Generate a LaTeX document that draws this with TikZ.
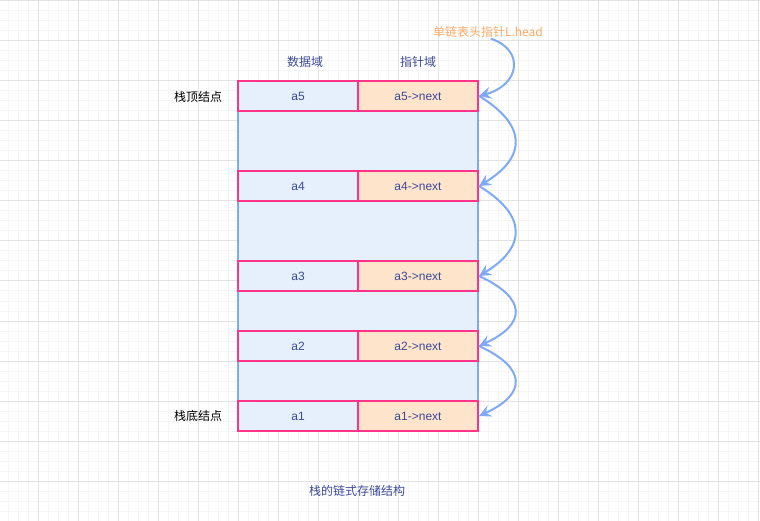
\documentclass[tikz,border=0pt]{standalone}
\usepackage{fontspec}
\setmainfont{Liberation Sans}
\newfontfamily\cjk{Noto Sans CJK SC}
\usetikzlibrary{arrows.meta}
\definecolor{pink}{HTML}{FF3388}
\definecolor{cellblue}{HTML}{E6F0FD}
\definecolor{cellorange}{HTML}{FFE4CC}
\definecolor{linkblue}{HTML}{7EAAF8}
\definecolor{textblue}{HTML}{3B4A96}
\definecolor{headorange}{HTML}{FFAA66}

\tikzset{
	datacell/.style={draw=pink, fill=cellblue, line width=2pt, minimum width=120pt, minimum height=30pt, inner sep=0pt, text=textblue, font=\fontsize{12}{14}\selectfont},
	ptrcell/.style={datacell, fill=cellorange},
	link/.style={draw=linkblue, line width=2pt, -{Stealth[length=12pt,width=12pt,inset=4.5pt]}},
	label/.style={inner sep=0pt, font=\fontsize{12}{14}\selectfont\cjk}
}

\begin{document}
\begin{tikzpicture}[x=1pt, y=-1pt]
	
	\useasboundingbox (0,0) rectangle (760,521);
	\fill[white] (0,0) rectangle (760,521);
	
	% grid
	\foreach \gx in {8,18,...,758} \draw[black!4, line width=1pt] (\gx,0) -- (\gx,521);
	\foreach \gy in {1,11,...,521} \draw[black!4, line width=1pt] (0,\gy) -- (760,\gy);
	\foreach \gx in {38,78,...,758} \draw[black!11, line width=1pt] (\gx,0) -- (\gx,521);
	\foreach \gy in {1,41,...,521} \draw[black!11, line width=1pt] (0,\gy) -- (760,\gy);
	
	\node[draw=linkblue, fill=cellblue, line width=2pt, minimum width=240pt, minimum height=350pt, inner sep=0pt] (stack) at (358,256) {};
	
	\node[datacell] (d5) at (298,96) {a5};
	\node[ptrcell] (p5) at (418,96) {a5->next};
	\node[datacell] (d4) at (298,186) {a4};
	\node[ptrcell] (p4) at (418,186) {a4->next};
	\node[datacell] (d3) at (298,276) {a3};
	\node[ptrcell] (p3) at (418,276) {a3->next};
	\node[datacell] (d2) at (298,346) {a2};
	\node[ptrcell] (p2) at (418,346) {a2->next};
	\node[datacell] (d1) at (298,416) {a1};
	\node[ptrcell] (p1) at (418,416) {a1->next};
	
	\node[label, text=textblue] (datafield) at (305,62) {数据域};
	\node[label, text=textblue] (ptrfield) at (418,62) {指针域};
	\node[label] (top) at (198,97) {栈顶结点};
	\node[label] (bottom) at (198,416) {栈底结点};
	\node[label, text=headorange] (head) at (488,32) {单链表头指针L.head};
	\node[label, text=textblue] (title) at (357,491) {栈的链式存储结构};
	
	\draw[link, shorten <=3pt] (head.south) .. controls (525,50) and (520,85) .. (p5.east);
	\draw[link] (p5.east) .. controls (527,125) and (527,157) .. (p4.east);
	\draw[link] (p4.east) .. controls (527,215) and (527,247) .. (p3.east);
	\draw[link] (p3.east) .. controls (527,298) and (527,324) .. (p2.east);
	\draw[link] (p2.east) .. controls (527,368) and (527,394) .. (p1.east);
	
\end{tikzpicture}
\end{document}
